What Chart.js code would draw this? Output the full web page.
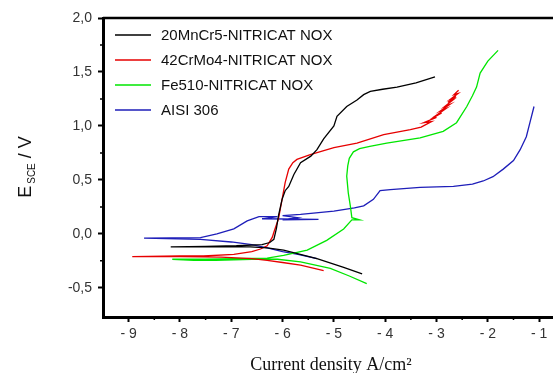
<!DOCTYPE html>
<html>
<head>
<meta charset="utf-8">
<script src="https://cdn.jsdelivr.net/npm/chart.js@4"></script>
<style>
  body { margin: 0; background: #fff; }
  #wrap { width: 553px; height: 373px; }
</style>
</head>
<body>
<div id="wrap"><canvas id="polChart" width="553" height="373"></canvas></div>
<script>
// series labels
const seriesLabels = ['20MnCr5-NITRICAT NOX', '42CrMo4-NITRICAT NOX', 'Fe510-NITRICAT NOX', 'AISI 306'];

// log current density (x) and potential E (y), in sweep order
const blackX = [-4.45, -4.81, -5.33, -5.98, -6.3, -6.63, -7.2, -7.8, -8.18, -7.5, -6.9, -6.4, -6.25, -6.17, -6.12, -6.08, -6.01, -5.95, -5.88, -5.78, -5.65, -5.45, -5.33, -5.2, -5.0, -4.94, -4.75, -4.55, -4.42, -4.29, -4.05, -3.77, -3.4, -3.03];
const blackY = [-0.37, -0.31, -0.23, -0.15, -0.13, -0.12, -0.12, -0.12, -0.12, -0.115, -0.11, -0.10, -0.08, -0.05, 0.05, 0.17, 0.32, 0.40, 0.44, 0.55, 0.66, 0.72, 0.78, 0.88, 1.0, 1.09, 1.18, 1.24, 1.29, 1.32, 1.34, 1.36, 1.40, 1.455];

const redX = [-5.2, -5.65, -6.0, -6.3, -6.6, -7.2, -8.0, -8.93, -8.0, -7.54, -6.95, -6.6, -6.43, -6.3, -6.2, -6.17, -6.08, -6.01, -5.95, -5.88, -5.8, -5.72, -5.46, -5.0, -4.55, -4.03, -3.51, -3.3, -3.1, -3.25, -3.0, -3.12, -2.9, -3.0, -2.82, -2.92, -2.74, -2.84, -2.68, -2.78, -2.62, -2.72, -2.58, -2.66, -2.57];
const redY = [-0.34, -0.29, -0.265, -0.245, -0.23, -0.215, -0.21, -0.21, -0.205, -0.205, -0.19, -0.165, -0.14, -0.11, -0.03, 0.015, 0.14, 0.32, 0.475, 0.6, 0.66, 0.69, 0.735, 0.80, 0.84, 0.92, 0.965, 0.99, 1.04, 1.03, 1.08, 1.06, 1.12, 1.10, 1.16, 1.14, 1.20, 1.18, 1.24, 1.22, 1.27, 1.25, 1.30, 1.29, 1.33];

const greenX = [-4.36, -4.7, -5.07, -5.65, -6.1, -6.6, -7.3, -7.73, -8.15, -7.5, -6.95, -6.3, -5.98, -5.52, -5.14, -4.81, -4.65, -4.5, -4.65, -4.68, -4.72, -4.75, -4.73, -4.7, -4.62, -4.5, -4.3, -3.97, -3.32, -2.87, -2.61, -2.41, -2.3, -2.22, -2.15, -2.0, -1.8];
const greenY = [-0.46, -0.39, -0.32, -0.26, -0.235, -0.235, -0.245, -0.245, -0.235, -0.235, -0.23, -0.225, -0.2, -0.15, -0.06, 0.046, 0.13, 0.13, 0.15, 0.26, 0.38, 0.535, 0.63, 0.7, 0.76, 0.79, 0.81, 0.84, 0.89, 0.95, 1.03, 1.18, 1.28, 1.36, 1.49, 1.60, 1.70];

const blueX = [-5.33, -5.7, -6.0, -6.3, -6.6, -7.0, -7.6, -8.7, -7.6, -7.28, -6.95, -6.69, -6.46, -6.1, -6.4, -5.3, -6.0, -5.7, -6.0, -5.65, -5.0, -4.6, -4.42, -4.23, -4.1, -3.9, -3.32, -2.67, -2.3, -2.09, -1.9, -1.7, -1.5, -1.37, -1.25, -1.18, -1.1];
const blueY = [-0.23, -0.19, -0.165, -0.13, -0.10, -0.075, -0.05, -0.04, -0.035, 0.0, 0.046, 0.12, 0.16, 0.16, 0.14, 0.135, 0.13, 0.15, 0.17, 0.18, 0.21, 0.24, 0.26, 0.32, 0.40, 0.41, 0.43, 0.44, 0.46, 0.49, 0.53, 0.60, 0.68, 0.78, 0.90, 1.03, 1.18];

const xTicks = [-9, -8, -7, -6, -5, -4, -3, -2, -1];
const yTicks = [-0.5, 0, 0.5, 1, 1.5, 2];

const colors = ['#000000', 'rgb(230, 0, 0)', 'rgb(0, 230, 0)', 'rgb(30, 30, 185)'];
const sans = "'Liberation Sans', Arial, sans-serif";

function toPoints(xs, ys) {
  return xs.map((x, i) => ({ x: x, y: ys[i] }));
}

const seriesData = [
  toPoints(blackX, blackY),
  toPoints(redX, redY),
  toPoints(greenX, greenY),
  toPoints(blueX, blueY),
];

const datasets = seriesData.map((pts, i) => ({
  label: seriesLabels[i],
  data: pts,
  showLine: true,
  borderColor: colors[i],
  backgroundColor: colors[i],
  borderWidth: 1.3,
  pointRadius: 0,
  tension: 0,
}));

// frame, minor ticks, axis titles and the legend box
const decorPlugin = {
  id: 'decor',
  afterDraw(chart) {
    const ctx = chart.ctx;
    const area = chart.chartArea;
    const xs = chart.scales.x;
    const ys = chart.scales.y;
    ctx.save();

    // top border
    ctx.strokeStyle = '#000';
    ctx.lineWidth = 2.5;
    ctx.beginPath();
    ctx.moveTo(area.left, area.top);
    ctx.lineTo(area.right, area.top);
    ctx.stroke();

    // minor ticks
    ctx.lineWidth = 1.5;
    ctx.beginPath();
    for (let v = -8.5; v < -1; v += 1) {
      const px = xs.getPixelForValue(v);
      ctx.moveTo(px, area.bottom);
      ctx.lineTo(px, area.bottom + 3);
    }
    for (let v = -0.25; v < 2; v += 0.5) {
      const py = ys.getPixelForValue(v);
      ctx.moveTo(area.left, py);
      ctx.lineTo(area.left - 3, py);
    }
    ctx.stroke();

    // x title
    ctx.fillStyle = '#111';
    ctx.font = "18px 'Liberation Serif', 'Times New Roman', serif";
    ctx.textAlign = 'center';
    ctx.textBaseline = 'alphabetic';
    ctx.fillText('Current density A/cm²', (area.left + area.right) / 2 + 3, 370);

    // y title, E with subscript SCE
    ctx.translate(31, 167);
    ctx.rotate(-Math.PI / 2);
    ctx.textAlign = 'left';
    const big = '18px ' + sans;
    const small = '10px ' + sans;
    ctx.font = big;
    const wE = ctx.measureText('E').width;
    ctx.font = small;
    const wS = ctx.measureText('SCE').width;
    ctx.font = big;
    const wV = ctx.measureText(' / V').width;
    let x0 = -(wE + 2 + wS + wV) / 2;
    ctx.fillText('E', x0, 0);
    x0 += wE + 2;
    ctx.font = small;
    ctx.fillText('SCE', x0, 4);
    x0 += wS;
    ctx.font = big;
    ctx.fillText(' / V', x0, 0);
    ctx.setTransform(1, 0, 0, 1, 0, 0);

    // legend
    ctx.font = '15px ' + sans;
    ctx.textBaseline = 'middle';
    ctx.textAlign = 'left';
    chart.data.datasets.forEach((ds, i) => {
      const y = 35 + i * 25;
      ctx.strokeStyle = ds.borderColor;
      ctx.lineWidth = 1.3;
      ctx.beginPath();
      ctx.moveTo(115, y);
      ctx.lineTo(151, y);
      ctx.stroke();
      ctx.fillStyle = '#111';
      ctx.fillText(ds.label, 161, y + 1);
    });
    ctx.restore();
  },
};

new Chart(document.getElementById('polChart').getContext('2d'), {
  type: 'scatter',
  data: { datasets: datasets },
  options: {
    responsive: false,
    animation: false,
    layout: { padding: { top: 18, right: 0, left: 0, bottom: 0 } },
    plugins: {
      legend: { display: false },
      tooltip: { enabled: false },
    },
    scales: {
      x: {
        type: 'linear',
        min: -9.5,
        max: -0.73,
        afterBuildTicks: function (scale) {
          scale.ticks = xTicks.map(v => ({ value: v }));
        },
        afterFit: function (scale) {
          scale.height = 56;
        },
        ticks: {
          color: '#333',
          font: { family: sans, size: 14 },
          padding: 4,
          maxRotation: 0,
          callback: function (value) {
            return '- ' + Math.abs(value);
          },
        },
        grid: {
          drawOnChartArea: false,
          drawTicks: true,
          tickLength: 5,
          tickColor: '#000',
          tickWidth: 2,
        },
        border: { display: true, color: '#000', width: 3 },
      },
      y: {
        type: 'linear',
        min: -0.77,
        max: 2.0,
        afterBuildTicks: function (scale) {
          scale.ticks = yTicks.map(v => ({ value: v }));
        },
        afterFit: function (scale) {
          scale.width = 103;
        },
        ticks: {
          color: '#333',
          font: { family: sans, size: 14 },
          padding: 6,
          callback: function (value) {
            return value.toFixed(1).replace('.', ',');
          },
        },
        grid: {
          drawOnChartArea: false,
          drawTicks: true,
          tickLength: 5,
          tickColor: '#000',
          tickWidth: 2,
        },
        border: { display: true, color: '#000', width: 3 },
      },
    },
  },
  plugins: [decorPlugin],
});
</script>
</body>
</html>
